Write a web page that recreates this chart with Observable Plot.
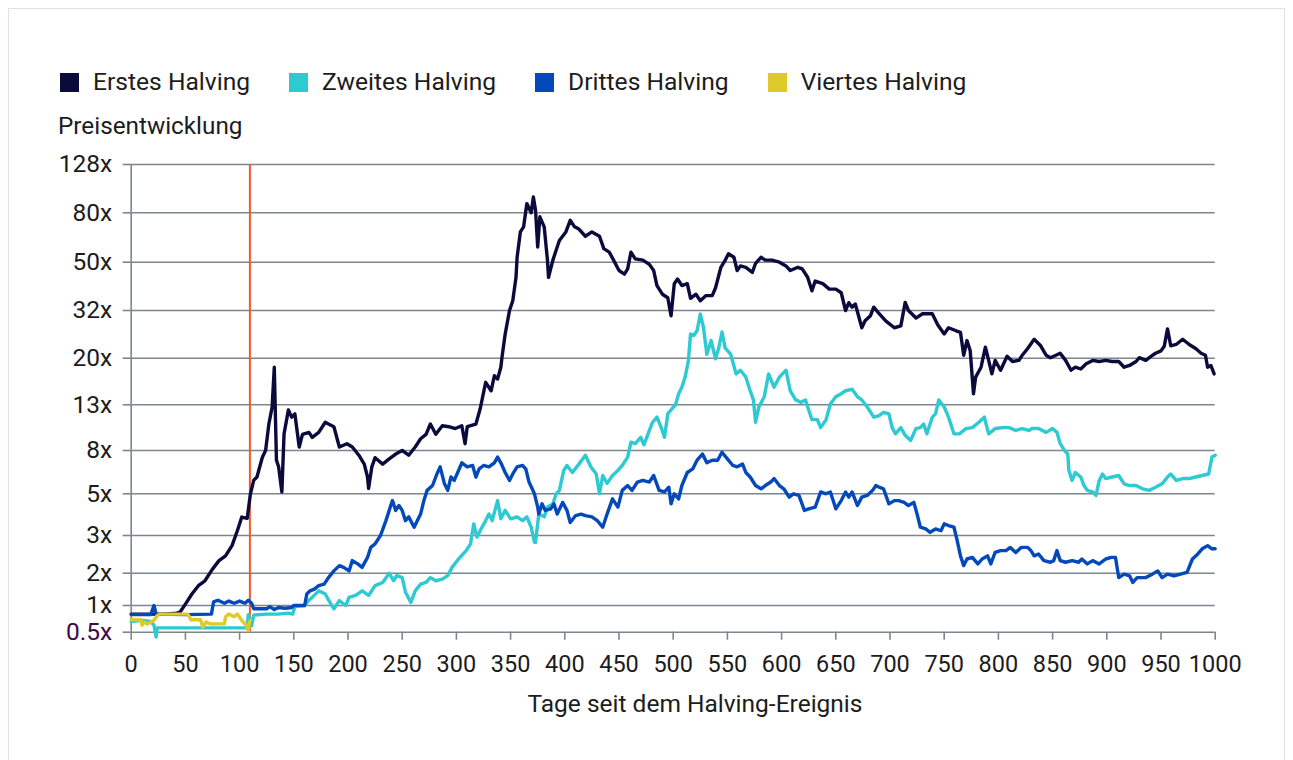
<!DOCTYPE html>
<html><head><meta charset="utf-8">
<script src="https://cdn.jsdelivr.net/npm/d3@7"></script>
<script src="https://cdn.jsdelivr.net/npm/@observablehq/plot@0.6"></script>
<style>
html,body{margin:0;padding:0;background:#fff;}
body{width:1293px;height:760px;position:relative;overflow:hidden;font-family:Roboto,"Noto Sans",sans-serif;color:#1c1c1c;}
#frame{position:absolute;left:8px;top:8px;width:1277px;height:800px;border:1px solid #dfe3e8;box-sizing:border-box;}
#legend{position:absolute;left:60px;top:70px;display:flex;align-items:center;font-size:24.6px;line-height:24px;height:24px;white-space:nowrap;}
.item{display:flex;align-items:center;margin-right:39px;}
.sw{width:19px;height:19px;margin-right:14px;}
#ylabel{position:absolute;left:58px;top:114px;font-size:24.3px;line-height:24px;}
#chart{position:absolute;left:0;top:140px;}
#xlabel{position:absolute;left:695px;top:692px;transform:translateX(-50%);font-size:24.5px;line-height:24px;white-space:nowrap;}
</style></head><body>
<div id="frame"></div>
<div id="legend"></div>
<div id="ylabel">Preisentwicklung</div>
<div id="chart"></div>
<div id="xlabel">Tage seit dem Halving-Ereignis</div>
<script>
const seriesNames = ["Erstes Halving","Zweites Halving","Drittes Halving","Viertes Halving"];
const seriesColors = ["#0a0a3c","#2ecad2","#0449ba","#e0ca2a"];

const erstes = [[0,0.8],[15,0.8],[30,0.8],[42,0.82],[45,0.84],[50,1.03],[56,1.28],[62,1.53],[68,1.7],[75,2.09],[81,2.29],[87,2.41],[93,2.69],[98,3.19],[102,3.76],[107,3.7],[110,5.0],[113,5.78],[116,6.0],[121,7.44],[124,8.0],[127,10.6],[130,12.7],[132,18.4],[134,7.2],[136,6.7],[139,5.1],[141,9.55],[145,12.3],[148,11.4],[151,11.8],[155,8.3],[158,9.5],[164,9.7],[167,9.2],[173,9.7],[179,10.8],[182,10.6],[187,10.3],[192,8.3],[199,8.6],[204,8.3],[210,7.6],[215,6.9],[218,6.0],[219,5.3],[222,6.7],[225,7.4],[232,6.9],[238,7.3],[244,7.7],[250,8.0],[256,7.6],[262,8.3],[267,9.06],[272,9.5],[276,10.6],[281,9.5],[287,10.4],[293,10.3],[299,10.1],[305,10.4],[308,8.6],[310,10.3],[318,10.6],[322,12.5],[327,16.0],[332,14.8],[335,17.0],[338,16.5],[341,18.4],[342,20.1],[345,25.4],[349,32],[352,35],[355,43.5],[356,52.4],[359,66.7],[362,70],[365,87.5],[369,80],[371,93.3],[373,82],[375,57.8],[377,77],[381,70],[384,51],[385,43.5],[389,51],[392,56],[395,61.5],[401,66.7],[405,74.5],[409,70],[413,68.5],[419,64],[425,66.7],[432,64],[436,56.9],[441,55],[445,51],[450,46.3],[455,44.8],[458,47],[461,55],[465,51.6],[472,51],[478,49],[482,46.3],[485,40.3],[490,37.2],[495,36],[498,30.4],[501,41],[504,42.8],[508,40.3],[513,41],[516,35.8],[521,37.2],[525,35],[530,36.7],[536,36.7],[539,39.4],[544,47.7],[548,51],[551,54.2],[556,52.4],[559,46.3],[562,48.3],[567,47.7],[573,45.5],[576,49.5],[581,52.4],[585,51],[591,51],[598,50],[604,48.3],[608,46.3],[615,47.7],[619,47],[624,43.5],[628,38.4],[631,42],[638,41],[644,39],[650,39],[655,37.7],[659,32],[662,34.4],[665,33],[668,34],[674,27],[677,28.9],[682,30.4],[685,33],[690,31],[696,28.9],[704,27],[710,27.5],[714,34.5],[717,32],[724,29.7],[730,31],[739,31],[744,27.8],[750,25.4],[754,27],[761,26.2],[765,25.8],[768,20.6],[771,23.8],[774,21.5],[777,14.4],[779,16.8],[784,18.4],[788,22.3],[791,19.6],[794,17.3],[797,19.6],[802,17.9],[808,20.4],[813,19.4],[819,19.6],[822,20.6],[827,22],[833,24.1],[839,22.6],[844,20.6],[848,20.1],[853,20.6],[857,21],[862,19.6],[867,17.9],[871,18.4],[876,18.1],[881,19],[887,19.6],[893,19.4],[899,19.6],[905,19.4],[911,19.4],[916,18.4],[921,18.7],[927,19.4],[930,20.1],[936,19.6],[941,20.4],[945,21],[950,21.5],[953,22.5],[956,26.7],[959,22.6],[964,22.9],[970,24.1],[976,22.9],[982,22],[987,21],[991,20.6],[993,18.4],[996,18.7],[999,17.3]];

const zweites = [[0,0.66],[10,0.68],[18,0.66],[21,0.6],[23,0.44],[24,0.56],[50,0.56],[80,0.56],[107,0.56],[108,0.79],[111,0.59],[113,0.78],[125,0.8],[135,0.8],[145,0.82],[149,0.8],[151,0.98],[160,1.0],[164,1.12],[167,1.19],[173,1.37],[179,1.28],[184,1.04],[187,0.92],[192,1.11],[198,1.0],[201,1.19],[207,1.24],[213,1.37],[219,1.24],[225,1.53],[232,1.64],[238,2.0],[242,1.7],[245,1.9],[250,1.82],[253,1.33],[258,1.07],[262,1.37],[267,1.58],[272,1.64],[276,1.82],[281,1.7],[287,1.76],[292,1.9],[296,2.13],[302,2.33],[309,2.55],[313,2.74],[316,3.46],[319,2.95],[322,3.19],[327,3.6],[330,3.9],[333,3.6],[338,4.6],[341,3.68],[345,4.08],[350,3.68],[356,3.77],[361,3.6],[365,3.77],[369,3.32],[372,2.79],[373,2.79],[376,3.9],[381,3.77],[384,4.25],[389,4.42],[392,5.0],[395,5.19],[399,6.44],[402,6.8],[407,6.3],[413,6.9],[419,7.6],[424,6.7],[429,6.2],[432,5.0],[435,6.1],[439,5.6],[444,6.1],[449,6.44],[453,6.8],[458,7.45],[461,8.74],[465,8.6],[470,9.2],[473,8.5],[478,9.9],[481,10.8],[485,11.4],[489,10.2],[492,9.2],[495,11.8],[499,12.5],[502,12.95],[505,14.4],[508,15.3],[511,16.8],[514,19.5],[516,25.4],[519,25],[522,26.2],[525,30.9],[528,27],[531,20.8],[535,23.8],[539,19.9],[542,22.1],[545,25.9],[548,22.1],[553,20.8],[558,17.3],[562,17.9],[567,16.8],[571,14.8],[574,13.6],[576,10.8],[579,12.7],[584,14.0],[588,17.3],[593,15.3],[598,16.8],[604,17.9],[608,14.8],[613,13.6],[618,13.3],[622,13.6],[628,11.1],[633,11.1],[636,10.2],[641,11.1],[645,13.1],[650,14.0],[655,14.4],[659,14.8],[665,15.0],[668,14.4],[670,14.0],[674,13.6],[679,12.7],[685,11.4],[690,11.6],[694,12.0],[699,11.8],[702,10.2],[705,9.55],[710,10.2],[714,9.4],[719,8.9],[724,10.1],[728,10.2],[731,10.6],[734,9.55],[739,11.4],[742,11.8],[745,13.6],[750,12.7],[754,11.4],[759,9.55],[764,9.55],[770,10.1],[776,10.2],[782,10.8],[787,11.4],[791,9.55],[797,10.1],[804,10.2],[810,10.2],[816,9.9],[822,10.1],[828,9.9],[831,10.1],[837,10.1],[844,9.7],[850,10.1],[854,9.7],[857,8.6],[861,8.0],[864,7.7],[865,6.44],[868,5.78],[871,6.3],[876,6.0],[879,5.47],[882,5.19],[887,5.1],[890,4.9],[893,5.78],[896,6.2],[899,5.9],[905,6.0],[911,6.1],[916,5.57],[921,5.47],[927,5.47],[933,5.28],[939,5.19],[945,5.37],[951,5.57],[956,6.0],[959,6.2],[964,5.78],[970,5.9],[976,5.9],[982,6.0],[988,6.1],[994,6.2],[997,7.45],[1000,7.6]];

const drittes = [[0,0.79],[18,0.79],[21,1.0],[23,0.8],[50,0.79],[74,0.8],[76,1.08],[80,1.12],[86,1.05],[90,1.1],[95,1.05],[100,1.1],[105,1.05],[108,1.12],[111,1.05],[113,0.92],[125,0.92],[128,0.97],[132,0.9],[136,0.95],[142,0.93],[148,0.95],[150,1.0],[160,1.0],[162,1.28],[165,1.37],[169,1.42],[173,1.53],[178,1.58],[182,1.82],[187,2.05],[192,2.17],[196,2.13],[201,2.05],[204,2.29],[209,2.21],[213,2.13],[218,2.37],[221,2.64],[225,2.74],[230,3.0],[235,3.6],[239,4.25],[241,4.6],[244,4.08],[247,4.33],[250,4.08],[253,3.6],[256,3.77],[261,3.32],[264,3.6],[267,3.9],[270,4.6],[273,5.19],[278,5.47],[282,6.2],[285,6.7],[289,5.57],[292,5.19],[295,6.0],[298,5.78],[302,6.44],[305,7.0],[310,6.7],[315,6.8],[318,6.0],[321,6.55],[325,6.8],[330,6.7],[335,7.0],[338,7.45],[341,7.0],[345,6.3],[349,5.78],[352,6.2],[356,6.7],[361,6.8],[364,6.55],[367,5.68],[372,5.0],[375,4.25],[376,3.9],[379,4.42],[382,4.08],[387,4.16],[390,4.42],[393,3.9],[398,4.5],[402,4.08],[405,3.52],[410,3.83],[415,3.9],[419,3.83],[425,3.77],[430,3.6],[435,3.32],[439,3.9],[444,4.7],[449,4.25],[453,5.19],[458,5.47],[462,5.19],[467,5.68],[472,5.78],[478,5.68],[482,6.1],[487,5.19],[492,5.1],[496,5.37],[498,4.42],[501,5.0],[505,4.7],[508,5.47],[513,6.3],[518,6.55],[522,7.2],[527,7.7],[531,7.0],[536,7.2],[541,7.2],[545,7.85],[550,7.3],[555,6.8],[559,6.7],[564,6.9],[567,6.3],[571,6.0],[576,5.47],[581,5.28],[585,5.47],[590,5.68],[593,5.9],[598,5.47],[602,5.28],[607,4.8],[611,5.0],[616,4.9],[621,4.08],[625,4.16],[631,4.25],[636,5.1],[641,5.0],[645,5.1],[650,4.16],[655,4.6],[659,5.1],[662,4.8],[665,5.1],[670,4.33],[674,4.8],[679,4.9],[684,5.19],[687,5.47],[690,5.37],[694,5.28],[699,4.42],[704,4.6],[708,4.6],[713,4.5],[717,4.33],[722,4.5],[725,3.9],[728,3.32],[733,3.25],[737,3.12],[742,3.25],[747,3.18],[750,3.46],[754,3.39],[759,3.32],[762,2.84],[765,2.41],[768,2.17],[771,2.33],[776,2.37],[781,2.21],[785,2.33],[790,2.41],[793,2.21],[797,2.5],[802,2.55],[807,2.55],[811,2.64],[816,2.5],[821,2.64],[827,2.64],[830,2.55],[833,2.41],[837,2.46],[842,2.29],[848,2.25],[851,2.29],[854,2.55],[857,2.29],[862,2.25],[868,2.29],[874,2.25],[877,2.33],[882,2.21],[887,2.29],[893,2.21],[899,2.33],[904,2.37],[908,2.37],[911,1.82],[916,1.96],[921,1.89],[924,1.64],[928,1.82],[936,1.82],[942,1.96],[947,2.05],[951,1.82],[956,1.96],[962,1.89],[968,1.96],[974,2.02],[979,2.33],[984,2.46],[988,2.6],[993,2.69],[997,2.6],[1000,2.6]];

const viertes = [[0,0.69],[9,0.69],[10,0.6],[12,0.65],[15,0.62],[21,0.68],[24,0.77],[26,0.8],[52,0.8],[53,0.77],[55,0.69],[64,0.69],[66,0.57],[69,0.65],[73,0.62],[86,0.62],[87,0.74],[90,0.8],[95,0.75],[98,0.8],[102,0.68],[106,0.6],[108,0.52],[109,0.65],[110,0.68]];

const yTicks = [0.5,1,2,3,5,8,13,20,32,50,80,128];
const xTicks = [0,50,100,150,200,250,300,350,400,450,500,550,600,650,700,750,800,850,900,950,1000];
const markerDay = [109.5];

// layout (scale range for the irregular y axis, in SVG pixels)
const svgTop = 140, W = 1293, H = 600;
const yRange = [631.7,605,572.7,535,493.3,450,404.3,357.7,310,261.7,212.3,164].map(p => p - svgTop);
const gridColor = "#7d858e";
const textColor = "#1c1c1c";

const rows = [erstes, zweites, drittes, viertes].flatMap((s, i) =>
  s.map(([day, value]) => ({series: seriesNames[i], day, value})));

const legend = document.getElementById("legend");
seriesNames.forEach((n, i) => {
  const it = document.createElement("div"); it.className = "item";
  const sw = document.createElement("div"); sw.className = "sw"; sw.style.background = seriesColors[i];
  const tx = document.createElement("span"); tx.textContent = n;
  it.append(sw, tx); legend.append(it);
});

const chart = Plot.plot({
  width: W, height: H,
  marginTop: yRange[yRange.length - 1],
  marginBottom: H - yRange[0],
  marginLeft: 130.7,
  marginRight: W - 1214.7,
  style: {fontFamily: "Roboto, 'Noto Sans', sans-serif", fontSize: "23.5px", color: textColor, background: "transparent", overflow: "visible"},
  x: {domain: [0, 1000], label: null},
  y: {type: "log", domain: yTicks, range: yRange, label: null},
  color: {domain: seriesNames, range: seriesColors},
  marks: [
    Plot.gridY(yTicks, {stroke: gridColor, strokeOpacity: 1, strokeWidth: 1.6}),
    Plot.ruleX([0], {stroke: gridColor, strokeWidth: 1.6}),
    Plot.axisY(yTicks, {tickSize: 8, stroke: gridColor, strokeWidth: 1.6, tickFormat: () => "", label: null}),
    Plot.text(yTicks.filter(d => d !== 0.5), {y: d => d, text: d => `${d}x`, frameAnchor: "left", textAnchor: "end", dx: -19, fill: textColor, fontSize: 24.5}),
    Plot.text(yTicks.filter(d => d === 0.5), {y: d => d, text: d => `${d}x`, frameAnchor: "left", textAnchor: "end", dx: -19, fill: "#3d0a45", fontSize: 24.5}),
    Plot.axisX(xTicks, {tickSize: 8, tickPadding: 15, stroke: gridColor, strokeWidth: 1.6, fill: textColor, tickFormat: d => String(d), label: null}),
    Plot.ruleX(markerDay, {stroke: "#f1592a", strokeWidth: 2}),
    Plot.line(rows, {x: "day", y: "value", z: "series", stroke: "series", strokeWidth: 3.4, strokeLinejoin: "round"})
  ]
});
document.getElementById("chart").append(chart);
</script>
</body></html>
